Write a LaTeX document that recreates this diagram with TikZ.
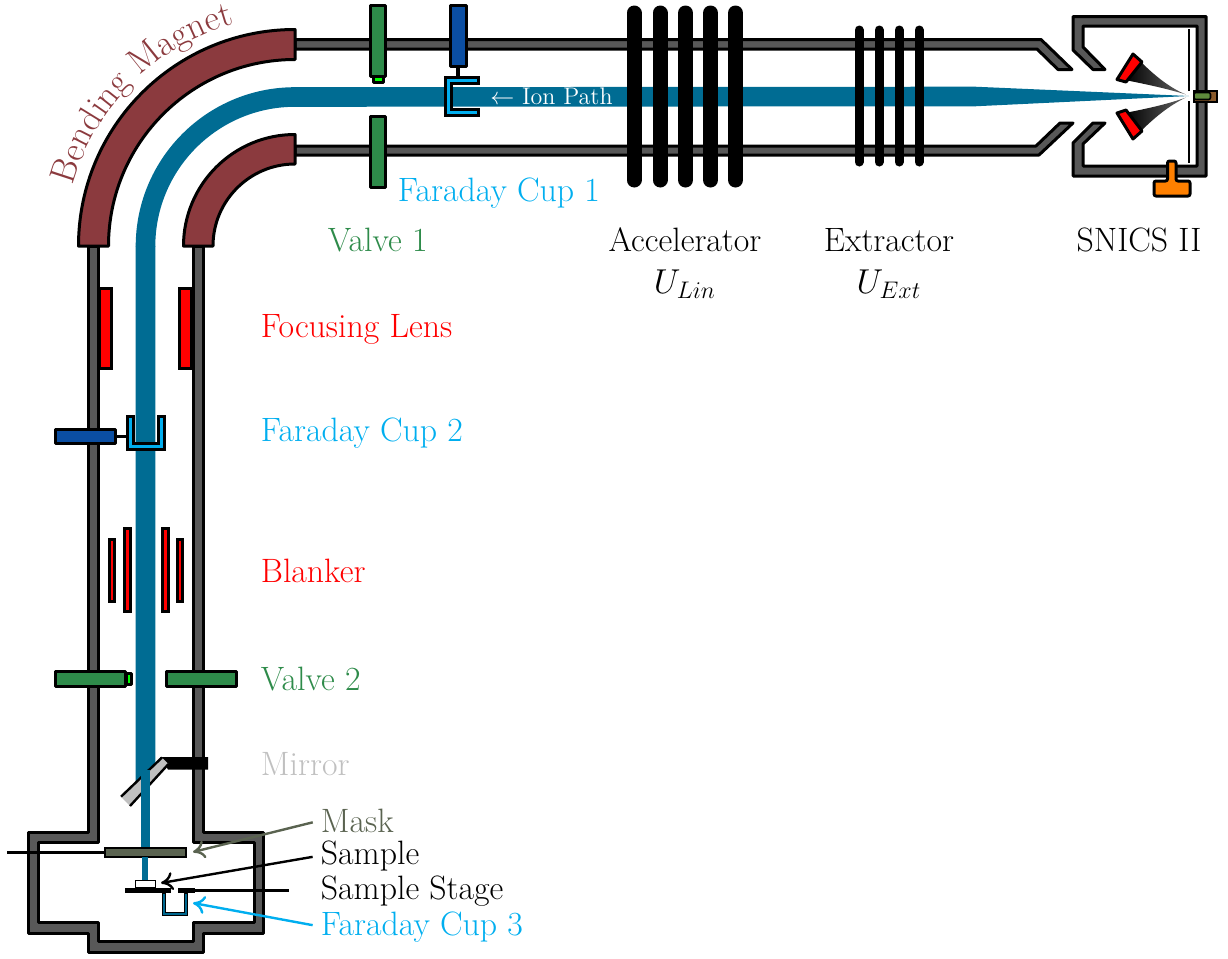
\documentclass[tikz,border=0pt]{standalone}
\usepackage{xcolor}
\usetikzlibrary{arrows.meta,decorations.text}
\definecolor{tubegray}{HTML}{585858}
\definecolor{beamblue}{HTML}{006C93}
\definecolor{magnetred}{HTML}{8B3A3E}
\definecolor{valvegreen}{HTML}{2E8B4A}
\definecolor{armblue}{HTML}{0B4EA2}
\definecolor{cupblue}{HTML}{00AEEF}
\definecolor{maskgray}{HTML}{5A6350}
\definecolor{mirrorgray}{HTML}{C0C0C0}
\definecolor{litegreen}{HTML}{00FF00}
\definecolor{srcbrown}{HTML}{8A5A2B}
\definecolor{srcgreen}{HTML}{5E8A3C}
\definecolor{tcorange}{HTML}{FF8000}
\tikzset{
  x=0.5pt,y=-0.5pt,
  part/.style={draw=black,line width=1.5pt,line join=round},
  tube/.style={part,fill=tubegray},
  magnet/.style={part,fill=magnetred},
  valve/.style={part,fill=valvegreen},
  arm/.style={part,fill=armblue},
  cup/.style={part,fill=cupblue,line join=miter},
  lens/.style={part,fill=red,line join=miter},
  lbl/.style={inner sep=0pt,font=\fontsize{16.9}{20}\selectfont},
  bar/.style={line cap=round,line width=7.5pt,black},
  exbar/.style={line cap=round,line width=4.5pt,black},
  callout/.style={-{Computer Modern Rightarrow[length=6pt,width=9pt]},line width=1.2pt,shorten <=4pt},
}
\begin{document}
\begin{tikzpicture}
\useasboundingbox (0,0) rectangle (1228,959);
% tubes
\draw[tube] (295,39.5) -- (1041,39.5) -- (1072,69.5) -- (1058,69.5) -- (1037,49) -- (295,49) -- cycle;
\draw[tube] (295,146) -- (1036,146) -- (1060,123) -- (1073,123) -- (1039,155) -- (295,155) -- cycle;
\draw[tube] (88.5,246) -- (88.5,832.5) -- (28,832.5) -- (28,933) -- (88.5,933) -- (88.5,952.5) -- (203,952.5) -- (203,933) -- (263.5,933) -- (263.5,832.5) -- (203,832.5) -- (203,246) -- (193.5,246) -- (193.5,842.5) -- (254,842.5) -- (254,922.5) -- (193.5,922.5) -- (193.5,941.5) -- (98.5,941.5) -- (98.5,922.5) -- (38.5,922.5) -- (38.5,842.5) -- (98.5,842.5) -- (98.5,246) -- cycle;
% SNICS housing
\draw[tube] (1073,16.5) -- (1206,16.5) -- (1206,176) -- (1073,176) -- (1073,143) -- (1093,123) -- (1105,123) -- (1083,144) -- (1083,166) -- (1197,166) -- (1197,26) -- (1083,26) -- (1083,47) -- (1105,69.5) -- (1093,69.5) -- (1073,50) -- cycle;
% beam
\fill[beamblue] (135.7,246) -- (155.3,246) -- (155.3,771) -- (135.7,790) -- cycle;
\draw[beamblue,line width=9.8pt] (145.5,246.5) arc[start angle=180,end angle=90,radius=74.75pt] -- (975,96.5);
\fill[beamblue] (975,86.7) -- (1189,96) -- (975,106.3) -- cycle;
% bending magnet
\draw[magnet] (78.5,246) arc[start angle=180,end angle=90,radius=108.25pt] -- (295,59.5) arc[start angle=90,end angle=180,radius=93.25pt] -- cycle;
\draw[magnet] (183.5,246) arc[start angle=180,end angle=90,radius=55.75pt] -- (295,164) arc[start angle=90,end angle=180,radius=41pt] -- cycle;
% valve 1
\draw[part,fill=litegreen] (373,75) rectangle (383,82);
\draw[valve] (370.5,5.5) rectangle (385,76);
\draw[valve] (370.5,116.5) rectangle (385,187);
% faraday cup 1
\draw[arm] (450.5,5.5) rectangle (466,66);
\draw[line width=2pt] (458,66) -- (458,78);
\draw[cup] (478.5,77.5) -- (445.5,77.5) -- (445.5,115) -- (478.5,115) -- (478.5,109) -- (451.5,109) -- (451.5,83.5) -- (478.5,83.5) -- cycle;
\node[lbl,anchor=base west,white,font=\fontsize{12}{14}\selectfont] (ionpath) at (490,104) {$\leftarrow$ Ion Path};
% accelerator
\foreach \xx in {634,660,685.5,710.5,735.5}
  \draw[bar] (\xx,13) -- (\xx,180);
% extractor
\foreach \xx in {859,879,899,919}
  \draw[exbar] (\xx,30) -- (\xx,162);
% SNICS internals
\draw[line width=1pt] (1189,29) -- (1189,91);
\draw[line width=1pt] (1189,101) -- (1189,163);
\shade[left color=black,right color=black!60] (1140,61) .. controls (1155,76) and (1170,88) .. (1186,94.5) .. controls (1168,89) and (1150,85) .. (1125,80) -- cycle;
\shade[left color=black,right color=black!60] (1140,132) .. controls (1155,117) and (1170,105) .. (1186,97.5) .. controls (1168,104) and (1150,108) .. (1125,113) -- cycle;
\draw[part,fill=red] (1133,54) -- (1142,62) -- (1126,82) -- (1117,79.5) -- cycle;
\draw[part,fill=red] (1133,139) -- (1142,131) -- (1126,110) -- (1117,113) -- cycle;
\draw[draw=black,line width=0.6pt,fill=srcbrown] (1194,91) rectangle (1217,102);
\draw[part,line width=0.8pt,fill=srcgreen,rounded corners=1pt] (1194,92.5) rectangle (1210.5,99.5);
\draw[part,fill=tcorange,rounded corners=1pt] (1167.5,161) -- (1176,161) -- (1176,181) -- (1190,181) -- (1190,196) -- (1154,196) -- (1154,181) -- (1167.5,181) -- cycle;
% focusing lens
\draw[lens] (99.5,288) rectangle (111,368);
\draw[lens] (179.5,288) rectangle (191,368);
% faraday cup 2
\draw[line width=1.5pt] (116,436) -- (127,436);
\draw[arm] (55,429) rectangle (115,443);
\draw[cup] (127,416) -- (133,416) -- (133,443.5) -- (158,443.5) -- (158,416) -- (164.5,416) -- (164.5,449) -- (127,449) -- cycle;
% blanker
\draw[lens] (109.5,539) rectangle (114.5,601);
\draw[lens] (124,528.5) rectangle (130,611);
\draw[lens] (162,528.5) rectangle (168,611);
\draw[lens] (177.5,539) rectangle (182.5,601);
% valve 2
\draw[part,fill=litegreen] (126,673.5) rectangle (131.5,684);
\draw[valve] (55,671) rectangle (125.5,686.5);
\draw[valve] (166,671) rectangle (236,686.5);
% mirror
\fill[black] (160,757) -- (208,757) -- (208,769.5) -- (168,769.5) -- cycle;
\fill[mirrorgray] (162,757.5) -- (168.5,764) -- (130,806) -- (121,796.7) -- cycle;
\draw[line width=1.2pt] (162,757.5) -- (121,796.7);
\draw[line width=1.2pt] (168.5,764) -- (130,806);
\fill[beamblue] (140.5,770) rectangle (150,848);
% mask
\draw[line width=1.5pt] (7,852.5) -- (105,852.5);
\draw[draw=black,line width=0.8pt,fill=maskgray] (105,848) rectangle (186,857);
\fill[beamblue] (142,857) rectangle (148,880);
% sample and stage
\draw[line width=1.5pt] (195,890.5) -- (289,890.5);
\draw[black,line width=0.8pt,fill=white] (135.5,880.5) rectangle (155.5,888);
\fill[black] (125,888) rectangle (171,893);
\fill[black] (178,888) rectangle (195,893);
% faraday cup 3
\draw[draw=black,line width=0.5pt,fill=cupblue!60!black] (162.5,893) -- (165,893) -- (165,912) -- (184.5,912) -- (184.5,893) -- (187,893) -- (187,915) -- (162.5,915) -- cycle;
% labels
\path[decorate,decoration={text along path,text align=center,text={|\fontsize{18}{21}\selectfont\color{magnetred}|Bending Magnet}}] (70.9,194.3) arc[start angle=167,end angle=103,radius=115pt];
\node[lbl,anchor=base west,cupblue] (fc1lbl) at (397.5,201) {Faraday Cup 1};
\node[lbl,anchor=base west,valvegreen] (v1lbl) at (327.5,251) {Valve 1};
\node[lbl,anchor=base] (acclbl) at (685,251) {Accelerator};
\node[lbl,anchor=base] (ulbl) at (685,293) {$U_{Lin}$};
\node[lbl,anchor=base] (extlbl) at (889,251) {Extractor};
\node[lbl,anchor=base] (uelbl) at (889,293) {$U_{Ext}$};
\node[lbl,anchor=base] (snicslbl) at (1139,251) {SNICS II};
\node[lbl,anchor=base west,red] (fllbl) at (260.5,337) {Focusing Lens};
\node[lbl,anchor=base west,cupblue] (fc2lbl) at (260.5,441) {Faraday Cup 2};
\node[lbl,anchor=base west,red] (blklbl) at (260.5,582) {Blanker};
\node[lbl,anchor=base west,valvegreen] (v2lbl) at (260.5,690) {Valve 2};
\node[lbl,anchor=base west,mirrorgray] (mirlbl) at (260.5,775) {Mirror};
\node[lbl,anchor=base west,maskgray] (masklbl) at (320.5,832) {Mask};
\node[lbl,anchor=base west] (samplbl) at (320.5,864) {Sample};
\node[lbl,anchor=base west] (stagelbl) at (320.5,899) {Sample Stage};
\node[lbl,anchor=base west,cupblue] (fc3lbl) at (320.5,935) {Faraday Cup 3};
% callouts
\coordinate (masktip) at (193,852);
\coordinate (samptip) at (161,883);
\coordinate (fc3tip) at (193,903);
\draw[callout,maskgray] (masklbl.west) -- (masktip);
\draw[callout,black] (samplbl.west) -- (samptip);
\draw[callout,cupblue] (fc3lbl.west) -- (fc3tip);
\end{tikzpicture}
\end{document}
